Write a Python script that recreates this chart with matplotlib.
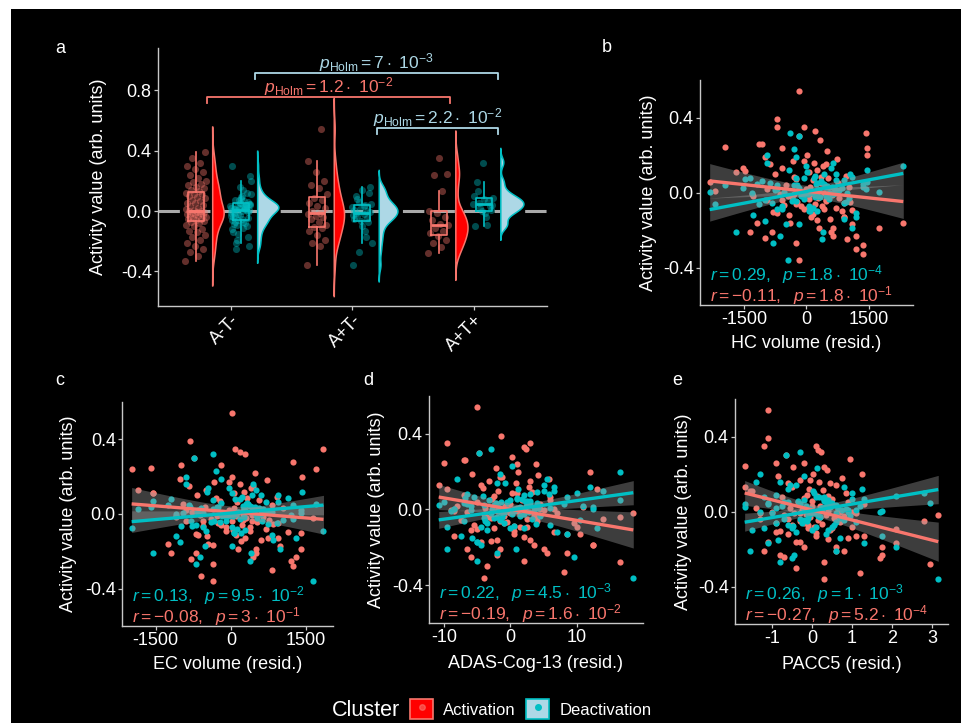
import numpy as np
import matplotlib
matplotlib.use('Agg')
import matplotlib.pyplot as plt
from matplotlib.patches import Rectangle, Patch, Polygon
from matplotlib.lines import Line2D
from matplotlib.ticker import FormatStrFormatter

plt.rcParams['font.family'] = ['Liberation Sans', 'DejaVu Sans']
plt.rcParams['mathtext.fontset'] = 'custom'
plt.rcParams['mathtext.rm'] = 'Liberation Sans'
plt.rcParams['mathtext.it'] = 'Liberation Sans:italic'
plt.rcParams['mathtext.bf'] = 'Liberation Sans:bold'
plt.rcParams['axes.unicode_minus'] = False

# --- activity values per subject, by amyloid/tau group -------------------
groups = ['A-T-', 'A+T-', 'A+T+']

red_atn = [-0.33, -0.30, -0.27, -0.25, -0.23, -0.21, -0.19, -0.17, -0.16, -0.14, -0.13, -0.12, -0.10, -0.09, -0.08, -0.07,
           -0.065, -0.06, -0.055, -0.05, -0.045, -0.04, -0.035, -0.03, -0.025, -0.02, -0.018, -0.015, -0.01, -0.008, -0.005, -0.002,
           0.002, 0.008, 0.015, 0.02, 0.03, 0.04, 0.05, 0.055, 0.065, 0.075, 0.085, 0.09, 0.10, 0.11, 0.115, 0.12,
           0.13, 0.14, 0.15, 0.16, 0.17, 0.18, 0.19, 0.20, 0.22, 0.24, 0.26, 0.28, 0.30, 0.32, 0.35, 0.39]
cyan_atn = [0.03, -0.11, 0.075, -0.005, 0.16, -0.058, 0.011, -0.19, 0.046, 0.0, -0.085, 0.12, 0.022, -0.035, 0.065, -0.25,
            0.005, 0.09, -0.14, 0.038, -0.02, 0.20, -0.07, 0.015, -0.045, 0.052, -0.12, 0.028, 0.007, -0.23, 0.10, -0.01,
            0.043, -0.062, 0.018, 0.14, -0.03, -0.17, 0.056, 0.003, -0.08, 0.032, 0.23, -0.05, 0.013, -0.10, 0.07, -0.015,
            0.025, -0.21, 0.049, 0.08, -0.04, 0.009, -0.15, 0.11, 0.035, -0.075, 0.06, -0.025, 0.30, 0.02, -0.09, 0.04]
red_aptn = [-0.36, -0.23, -0.21, -0.19, -0.16, -0.13, -0.115, -0.105, -0.09, -0.07, -0.05, -0.04, -0.03, -0.02,
            -0.01, 0.0, 0.02, 0.03, 0.05, 0.07, 0.085, 0.11, 0.15, 0.17, 0.2, 0.26, 0.33, 0.54]
cyan_aptn = [0.025, -0.13, 0.08, -0.008, 0.14, -0.055, 0.0, -0.27, 0.045, -0.018, 0.10, -0.07, 0.015, -0.36,
             0.038, -0.035, 0.16, -0.10, 0.008, -0.045, 0.06, -0.21, 0.032, -0.012, 0.12, -0.063, -0.025, -0.17]
red_aptp = [-0.28, -0.24, -0.21, -0.19, -0.165, -0.145, -0.13, -0.11, -0.095, -0.085, -0.06, -0.04, -0.01, 0.0,
            0.13, 0.24, 0.245, 0.35]
cyan_aptp = [0.048, -0.04, 0.13, 0.005, 0.32, -0.10, 0.065, 0.02, 0.085, -0.01, 0.19, 0.035, 0.0, 0.10,
             -0.09, 0.055, 0.04, 0.08]

# --- residualised covariates, same subject order -------------------------
hc_atn = [1350, 1200, -260, 980, 640, -820, 310, 1100, -1180, 560, 120, -430, 860, -60, 720, 380,
          -540, 200, 900, -220, 470, -960, 50, 780, -360, 260, -1280, 610, 90, -640, 420, -140,
          230, -2210, 680, -20, 1020, -500, 340, -2330, 150, 530, -300, 940, -760, 70, -1480, 250,
          -1520, 390, -880, 170, -320, 740, -1000, 10, 500, -600, -1060, 320, -190, 1440, -720, -700]
hc_aptn = [-190, 1200, -1350, 650, 2330, 900, 150, -800, 420, -120, 1050, -600, 280, -450,
           -300, 550, -950, 80, 760, -250, 350, -1700, 480, -60, 1460, -1150, 200, -180]
hc_aptp = [1350, -1000, 600, 1750, -400, 250, 900, -700, 1100, 30, -250, 480, -1300, 700, -600, 1460, -1950, -50]

ec_atn = [-590, 820, -350, 1200, 450, -700, 150, 980, -1250, 600, 280, -480, 1400, -90, 700, 380,
          -560, 220, 850, -260, 520, -900, 30, 760, -400, 310, -1100, 640, 100, -620, 430, -170,
          240, -780, 660, -40, 1050, -520, 350, -950, 130, 560, -300, 920, -680, 60, -1550, 270,
          -1850, 410, -840, 180, -330, 730, -1020, 20, 490, -1980, -200, 1250, -730, 290, 1850, -820]
ec_aptn = [-350, 1300, -1200, 500, -450, 750, 100, -700, 380, -100, 950, -550, 250, 1650,
           -280, 620, -900, 60, 820, -220, 330, -1560, 450, -30, 1420, -1000, 180, 30]
ec_aptp = [1250, -800, 500, 1400, -350, 200, 950, -650, 1150, 50, -200, 420, -1100, 600, -500, 1700, -1600, 80]

adas_atn = [8.0, -3.5, 2.0, -6.0, 5.5, -1.5, 12.5, -4.5, 3.0, -8.5, 0.5, 6.5, -2.5, 1.5, -5.5, 9.5,
            -0.5, 4.0, -7.5, 2.5, -3.0, 16.5, -1.0, 3.5, -4.0, 0.0, 7.0, -6.5, 1.0, -2.0, 5.0, -9.0,
            2.2, -3.8, 11.0, -0.8, 4.5, -5.0, 1.8, -2.8, 6.0, -7.0, 0.3, 3.2, -1.8, 13.0, -4.2, 2.8,
            -10.8, 0.8, -3.2, 5.8, -1.2, 4.2, -5.8, 1.2, -2.2, 3.8, -6.8, 0.2, -4.8, 2.4, -9.5, -1.4]
adas_aptn = [-4.0, 8.5, -6.5, 3.5, -2.0, 10.5, 0.5, -5.0, 2.5, -1.0, 14.0, -3.5, 1.5, 18.5,
             -0.5, 4.5, -8.0, 0.0, 6.0, -2.5, 1.0, -9.5, 3.0, -1.5, 12.0, -7.0, 2.0, -5.0]
adas_aptp = [16.5, -2.0, 5.0, 12.5, -3.0, 2.0, 8.5, -6.0, 10.0, 0.5, -1.5, 4.0, -8.5, 6.5, -4.5, 1.0, -10.0, 3.0]

pacc_atn = [1.2, -0.4, 0.3, 1.7, -0.8, 0.6, -0.2, 2.1, -1.1, 0.9, 0.1, -0.6, 0.45, -0.1, 1.0, -0.5,
            0.25, -0.9, 0.7, -0.3, 0.15, -1.3, 0.55, -0.05, 0.8, -0.7, 0.35, -0.15, 1.1, -0.45, 0.05, -1.0,
            0.4, -0.25, 0.65, -0.55, 0.2, 1.3, -0.35, 0.0, 0.5, -0.75, 0.12, -0.12, 0.85, -1.5, 0.28, -0.08,
            -1.68, 0.6, -0.6, 0.18, -0.3, 0.75, -0.85, 0.02, 0.38, -0.48, -0.2, 0.95, -0.65, 0.22, -1.2, -1.1]
pacc_aptn = [0.3, 1.75, -1.2, 0.6, -0.4, 1.1, 0.1, -0.8, 0.5, -0.1, 2.8, -0.6, 0.2, 3.16,
             -0.3, 0.7, -1.4, 0.0, 0.9, -0.2, 0.4, -1.55, 0.45, -0.05, 1.25, -0.9, 0.15, -1.1]
pacc_aptp = [2.95, -0.7, 0.8, 1.75, -0.3, 0.4, 1.3, -0.9, 2.1, 0.05, -0.2, 0.6, -1.3, 1.0, -0.5, 0.3, -1.68, 0.1]

# fitted lines: (intercept, slope) for activation / deactivation
fit_hc = [(0.0069, -2.36e-5), (0.0055, 4.14e-5)]
fit_ec = [(0.0112, -2.16e-5), (0.0049, 2.32e-5)]
fit_adas = [(0.0018, -0.00594), (-0.002, 0.00491)]
fit_pacc = [(0.0088, -0.0537), (0.0035, 0.036)]

# correlation labels
note_hc = [r'$r = -0.11,\ \ p = 1.8\cdot\ 10^{-1}$', r'$r = 0.29,\ \ p = 1.8\cdot\ 10^{-4}$']
note_ec = [r'$r = -0.08,\ \ p = 3\cdot\ 10^{-1}$', r'$r = 0.13,\ \ p = 9.5\cdot\ 10^{-2}$']
note_adas = [r'$r = -0.19,\ \ p = 1.6\cdot\ 10^{-2}$', r'$r = 0.22,\ \ p = 4.5\cdot\ 10^{-3}$']
note_pacc = [r'$r = -0.27,\ \ p = 5.2\cdot\ 10^{-4}$', r'$r = 0.26,\ \ p = 1\cdot\ 10^{-3}$']

# Holm-corrected comparisons in panel a
holm_x0 = [1.2, 0.8, 2.2]
holm_x1 = [3.2, 2.8, 3.2]
holm_y = [0.912, 0.754, 0.549]
holm_txt = [r'$p_{\mathrm{Holm}} = 7\cdot\ 10^{-3}$', r'$p_{\mathrm{Holm}} = 1.2\cdot\ 10^{-2}$',
            r'$p_{\mathrm{Holm}} = 2.2\cdot\ 10^{-2}$']
holm_cluster = [1, 0, 1]

RED = '#F8766D'
CYAN = '#00BFC4'
RED_FILL = '#FF0000'
CYAN_FILL = '#ADD8E6'
AXIS = '#C8C8C8'
line_col = [RED, CYAN]
fill_col = [RED_FILL, CYAN_FILL]
holm_col = [RED, CYAN_FILL]

red_groups = [red_atn, red_aptn, red_aptp]
cyan_groups = [cyan_atn, cyan_aptn, cyan_aptp]
act = [np.array(red_atn + red_aptn + red_aptp), np.array(cyan_atn + cyan_aptn + cyan_aptp)]

fig = plt.figure(figsize=(9.61, 7.23), dpi=100)
fig.patch.set_facecolor('white')
fig.add_artist(Rectangle((11 / 961, 0), 950 / 961, 714 / 723, transform=fig.transFigure,
                         facecolor='black', edgecolor='none', zorder=-5))


def style(ax):
    ax.set_facecolor('none')
    for s in ['top', 'right']:
        ax.spines[s].set_visible(False)
    for s in ['left', 'bottom']:
        ax.spines[s].set_color(AXIS)
        ax.spines[s].set_linewidth(1.0)
    ax.tick_params(colors=AXIS, labelcolor='white', labelsize=13, length=3, width=0.9, pad=1.5)


def kde(vals):
    n = len(vals)
    q1, q3 = np.percentile(vals, [25, 75])
    bw = 0.9 * min(np.std(vals, ddof=1), (q3 - q1) / 1.34) * n ** -0.2
    grid = np.linspace(vals.min() - 3 * bw, vals.max() + 3 * bw, 400)
    dens = np.exp(-0.5 * ((grid[:, None] - vals[None, :]) / bw) ** 2).sum(1) / (n * bw * np.sqrt(2 * np.pi))
    return grid, dens


# ---------------- panel a ----------------
ax = fig.add_axes([0.1644, 0.5768, 0.4048, 0.3568])
style(ax)
ax.set_xlim(0.4, 3.6)
ax.set_ylim(-0.628, 1.078)
ax.axhline(0, color='#A9A9A9', lw=2.2, dashes=(7, 3), zorder=1)

box_dx = [-0.29, 0.08]
vio_dx = [-0.15, 0.22]
kdes = [[kde(np.array(g)) for g in red_groups], [kde(np.array(g)) for g in cyan_groups]]
dmax = max(d.max() for k in kdes for _, d in k)

for i in range(3):
    pos = i + 1
    for c, grp in enumerate([red_groups[i], cyan_groups[i]]):
        vals = np.array(grp)
        jit = ((np.arange(len(vals)) * 0.618034) % 1 - 0.5) * 0.17
        ax.scatter(pos + box_dx[c] + jit, vals, s=26, color=line_col[c], alpha=0.4, lw=0, zorder=2)
        ax.boxplot(vals, positions=[pos + box_dx[c]], widths=0.13, showfliers=False, showcaps=False,
                   manage_ticks=False, zorder=3,
                   boxprops=dict(color=line_col[c], lw=1.2),
                   whiskerprops=dict(color=line_col[c], lw=1.2),
                   medianprops=dict(color=line_col[c], lw=2.0))
        grid, dens = kdes[c][i]
        base = pos + vio_dx[c]
        xs = base + dens / dmax * 0.19
        verts = [(base, grid[0])] + list(zip(xs, grid)) + [(base, grid[-1])]
        ax.add_patch(Polygon(verts, closed=True, facecolor=fill_col[c], edgecolor=line_col[c],
                             lw=1.1, zorder=4))

for x0, x1, y, t, c in zip(holm_x0, holm_x1, holm_y, holm_txt, holm_cluster):
    ax.plot([x0, x0, x1, x1], [y - 0.04, y, y, y - 0.04], color=holm_col[c], lw=1.3, zorder=5)
    ax.text((x0 + x1) / 2, y + 0.03, t, color=holm_col[c], fontsize=12.5, ha='center', va='baseline')

ax.set_xticks([1, 2, 3])
ax.set_xticklabels(groups, rotation=45, ha='right', va='top', rotation_mode='anchor')
ax.set_yticks([-0.4, 0.0, 0.4, 0.8])
ax.yaxis.set_major_formatter(FormatStrFormatter('%.1f'))
ax.set_ylabel('Activity value (arb. units)', color='white', fontsize=13)
ax.yaxis.set_label_coords(-0.131, 0.5)
fig.text(55 / 961, 1 - 53 / 723, 'a', color='white', fontsize=13, ha='left', va='baseline')


# ---------------- panels b-e ----------------
def scatter_panel(rect, xv, fits, notes, xlabel, xticks, letter, letter_xy, ylab_x, xlab_y):
    ax = fig.add_axes(rect)
    style(ax)
    xv = np.array(xv, dtype=float)
    for c in range(2):
        ax.scatter(xv, act[c], s=20, color=line_col[c], lw=0, zorder=2)
    xs = np.linspace(xv.min(), xv.max(), 200)
    n = len(xv)
    sxx = np.sum((xv - xv.mean()) ** 2)
    for c in range(2):
        b0, b1 = fits[c]
        resid = act[c] - (b0 + b1 * xv)
        s = np.sqrt(np.sum(resid ** 2) / (n - 2))
        hw = 1.98 * s * np.sqrt(1 / n + (xs - xv.mean()) ** 2 / sxx)
        yhat = b0 + b1 * xs
        ax.fill_between(xs, yhat - hw, yhat + hw, color='#999999', alpha=0.4, lw=0, zorder=3)
    for c in range(2):
        b0, b1 = fits[c]
        ax.plot(xs, b0 + b1 * xs, color=line_col[c], lw=2.4, zorder=4, solid_capstyle='butt')
    ax.text(xv.min(), -0.437, notes[1], color=CYAN, fontsize=12.5, ha='left', va='center', zorder=5)
    ax.text(xv.min(), -0.548, notes[0], color=RED, fontsize=12.5, ha='left', va='center', zorder=5)
    ax.margins(x=0.05)
    ax.set_ylim(-0.6, 0.6)
    ax.set_yticks([-0.4, 0.0, 0.4])
    ax.yaxis.set_major_formatter(FormatStrFormatter('%.1f'))
    ax.set_xticks(xticks)
    ax.set_xlabel(xlabel, color='white', fontsize=13)
    ax.set_ylabel('Activity value (arb. units)', color='white', fontsize=13)
    ax.yaxis.set_label_coords(ylab_x, 0.5)
    ax.xaxis.set_label_coords(0.5, xlab_y)
    fig.text(letter_xy[0] / 961, 1 - letter_xy[1] / 723, letter, color='white', fontsize=13,
             ha='left', va='baseline')
    return ax


scatter_panel([0.7284, 0.5781, 0.2216, 0.3112], hc_atn + hc_aptn + hc_aptp, fit_hc, note_hc,
              'HC volume (resid.)', [-1500, 0, 1500], 'b', (602, 52), -0.202, -0.135)
scatter_panel([0.1270, 0.1342, 0.2196, 0.3098], ec_atn + ec_aptn + ec_aptp, fit_ec, note_ec,
              'EC volume (resid.)', [-1500, 0, 1500], 'c', (55, 385), -0.213, -0.135)
scatter_panel([0.4464, 0.1383, 0.2227, 0.3140], adas_atn + adas_aptn + adas_aptp, fit_adas, note_adas,
              'ADAS-Cog-13 (resid.)', [-10, 0, 10], 'd', (363, 385), -0.206, -0.14)
scatter_panel([0.7648, 0.1369, 0.2216, 0.3112], pacc_atn + pacc_aptn + pacc_aptp, fit_pacc, note_pacc,
              'PACC5 (resid.)', [-1, 0, 1, 2, 3], 'e', (672, 385), -0.202, -0.14)

# ---------------- legend ----------------
fig.text(332 / 961, 1 - 716 / 723, 'Cluster', color='white', fontsize=15.5, ha='left', va='baseline')
handles = [(Patch(facecolor=RED_FILL, edgecolor=RED, lw=1.2),
            Line2D([], [], marker='o', ls='', color=RED, alpha=0.6, markersize=4)),
           (Patch(facecolor=CYAN_FILL, edgecolor=CYAN, lw=1.2),
            Line2D([], [], marker='o', ls='', color=CYAN, markersize=4))]
leg = fig.legend(handles, ['Activation', 'Deactivation'], loc='center left',
                 bbox_to_anchor=(410 / 961, 1 - 709 / 723), ncol=2, frameon=False, fontsize=12,
                 handlelength=1.4, handleheight=1.4, handletextpad=0.6, columnspacing=0.6,
                 borderpad=0, borderaxespad=0)
for t in leg.get_texts():
    t.set_color('white')

fig.savefig('out.png', dpi=100, facecolor='white')
